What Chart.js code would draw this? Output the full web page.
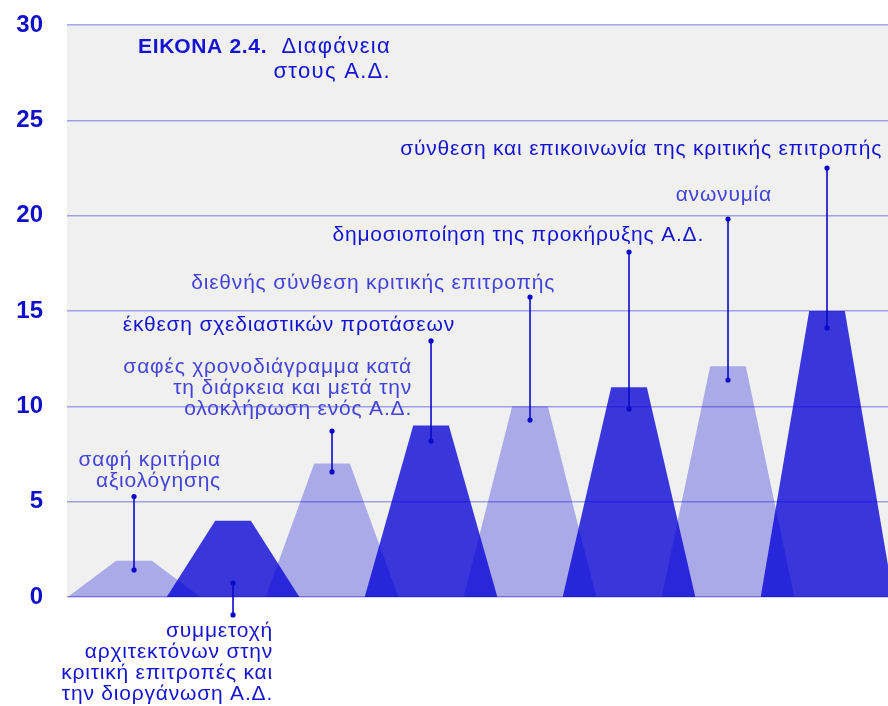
<!DOCTYPE html>
<html lang="el">
<head>
<meta charset="utf-8">
<title>ΕΙΚΟΝΑ 2.4. Διαφάνεια στους Α.Δ.</title>
<script src="https://cdn.jsdelivr.net/npm/chart.js@4.4.1/dist/chart.umd.min.js"></script>
<style>
  html, body { margin: 0; padding: 0; background: #ffffff; }
  #wrap { position: relative; width: 888px; height: 706px; }
</style>
</head>
<body>
<div id="wrap"><canvas id="chart" width="888" height="706"></canvas></div>
<script>
// Survey scores for each transparency criterion, in chart order
const criteria = [
  ['σαφή κριτήρια', 'αξιολόγησης'],
  ['συμμετοχή', 'αρχιτεκτόνων στην', 'κριτική επιτροπές και', 'την διοργάνωση Α.Δ.'],
  ['σαφές χρονοδιάγραμμα κατά', 'τη διάρκεια και μετά την', 'ολοκλήρωση ενός Α.Δ.'],
  ['έκθεση σχεδιαστικών προτάσεων'],
  ['διεθνής σύνθεση κριτικής επιτροπής'],
  ['δημοσιοποίηση της προκήρυξης Α.Δ.'],
  ['ανωνυμία'],
  ['σύνθεση και επικοινωνία της κριτικής επιτροπής']
];
const scores = [1.9, 4, 7, 9, 10, 11, 12.1, 15];
const yTicks = [0, 5, 10, 15, 20, 25, 30];

// Leader lines: start inside each peak, end next to its caption (value units)
const leaderStart = [1.42, 0.73, 6.56, 8.18, 9.28, 9.86, 11.38, 14.11];
const leaderEnd   = [5.27, -0.94, 8.7, 13.43, 15.73, 18.09, 19.82, 22.5];

// Caption placement: right edge (category units) and first line middle (value units)
const captionRight = [0.879, 1.404, 2.808, 3.242, 4.253, 5.758, 6.444, 7.556];
const captionTop   = [7.19, -1.78, 12.06, 14.27, 16.47, 18.99, 21.08, 23.5];

const LIGHT = 'rgba(0, 0, 212, 0.29)';
const DARK  = 'rgba(8, 4, 214, 0.79)';
const TEXT_DARK  = '#1414d2';
const TEXT_LIGHT = '#4343da';
const INK = '#0a0ac8';
const FONT = '"Liberation Sans", Arial, Helvetica, sans-serif';

const BASE_HALF = 0.67;   // half width of a peak at its foot
const TOP_HALF  = 0.18;   // half width of the flat summit

const datasets = scores.map((v, i) => ({
  data: [
    { x: i - BASE_HALF, y: 0 },
    { x: i - TOP_HALF, y: v },
    { x: i + TOP_HALF, y: v },
    { x: i + BASE_HALF, y: 0 }
  ],
  backgroundColor: i % 2 === 0 ? LIGHT : DARK,
  borderWidth: 0,
  pointRadius: 0,
  fill: 'origin',
  tension: 0
}));

const plotBackground = {
  id: 'plotBackground',
  beforeDraw(chart) {
    const { ctx, chartArea: a } = chart;
    ctx.save();
    ctx.fillStyle = '#f0f0f0';
    ctx.fillRect(a.left, a.top, a.right - a.left, a.bottom - a.top);
    ctx.restore();
  }
};

const captions = {
  id: 'captions',
  afterDatasetsDraw(chart) {
    const { ctx, scales: { x, y } } = chart;
    ctx.save();
    // leader lines with end dots
    scores.forEach((v, i) => {
      const px = x.getPixelForValue(i);
      const y0 = y.getPixelForValue(leaderStart[i]);
      const y1 = y.getPixelForValue(leaderEnd[i]);
      ctx.strokeStyle = INK;
      ctx.lineWidth = 1.6;
      ctx.beginPath();
      ctx.moveTo(px, y0);
      ctx.lineTo(px, y1);
      ctx.stroke();
      ctx.fillStyle = INK;
      [y0, y1].forEach(py => {
        ctx.beginPath();
        ctx.arc(px, py, 2.6, 0, Math.PI * 2);
        ctx.fill();
      });
    });
    // captions
    ctx.font = '21px ' + FONT;
    ctx.letterSpacing = '0.8px';
    ctx.textAlign = 'right';
    ctx.textBaseline = 'middle';
    criteria.forEach((lines, i) => {
      ctx.fillStyle = i % 2 === 0 ? TEXT_LIGHT : TEXT_DARK;
      const rx = x.getPixelForValue(captionRight[i]);
      const ty = y.getPixelForValue(captionTop[i]);
      lines.forEach((t, k) => ctx.fillText(t, rx, ty + k * 21.2));
    });
    // figure title
    ctx.textAlign = 'left';
    ctx.fillStyle = TEXT_DARK;
    ctx.font = 'bold 21px ' + FONT;
    ctx.letterSpacing = '0.7px';
    ctx.fillText('ΕΙΚΟΝΑ 2.4.', 138, 47);
    ctx.font = '22px ' + FONT;
    ctx.letterSpacing = '1.3px';
    ctx.textAlign = 'right';
    ctx.fillText('Διαφάνεια', 391, 47);
    ctx.fillText('στους Α.Δ.', 391, 72);
    ctx.restore();
  }
};

new Chart(document.getElementById('chart'), {
  type: 'line',
  data: { datasets },
  options: {
    responsive: false,
    animation: false,
    events: [],
    layout: { padding: { top: 25, right: 0, bottom: 109, left: 0 } },
    plugins: { legend: { display: false }, tooltip: { enabled: false } },
    scales: {
      x: {
        type: 'linear',
        min: -0.677,
        max: 7.616,
        display: false
      },
      y: {
        type: 'linear',
        min: 0,
        max: 30,
        afterBuildTicks(axis) { axis.ticks = yTicks.map(v => ({ value: v })); },
        afterFit(axis) {
          axis.width = 67;
          axis.paddingTop = 0;
          axis.paddingBottom = 0;
        },
        border: { display: false },
        grid: { color: 'rgba(80, 80, 228, 0.5)', lineWidth: 1.5, drawTicks: false },
        ticks: {
          padding: 24,
          color: '#1010c8',
          font: { family: FONT, size: 24, weight: 'bold' }
        }
      }
    }
  },
  plugins: [plotBackground, captions]
});
</script>
</body>
</html>
